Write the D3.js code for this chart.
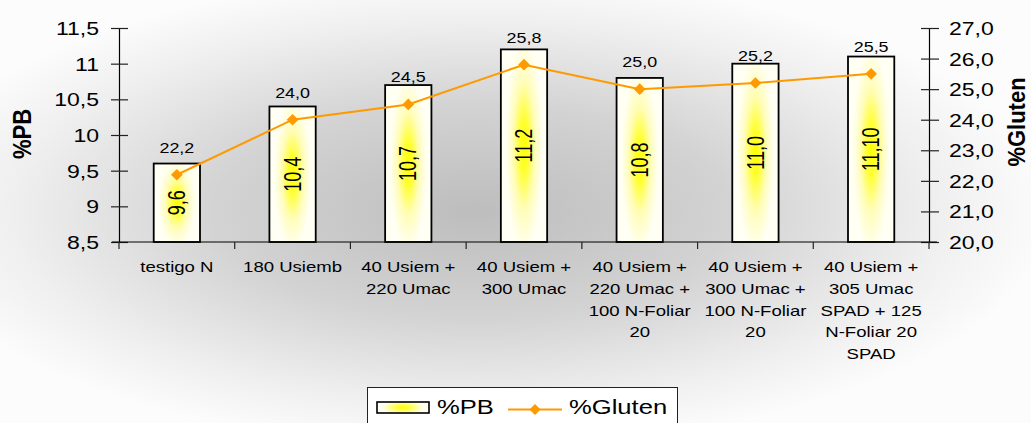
<!DOCTYPE html>
<html>
<head>
<meta charset="utf-8">
<script src="https://cdn.jsdelivr.net/npm/d3@7"></script>
<style>
  html, body { margin: 0; padding: 0; background: #ffffff; }
  svg { display: block; font-family: "Liberation Sans", Arial, sans-serif; }
</style>
</head>
<body>
<svg id="chart" width="1031" height="423"></svg>
<script>
// ---------- data ----------
const categories = [
  ["testigo N"],
  ["180 Usiemb"],
  ["40 Usiem +", "220 Umac"],
  ["40 Usiem +", "300 Umac"],
  ["40 Usiem +", "220 Umac +", "100 N-Foliar", "20"],
  ["40 Usiem +", "300 Umac +", "100 N-Foliar", "20"],
  ["40 Usiem +", "305 Umac", "SPAD + 125", "N-Foliar 20", "SPAD"]
];
const pbValues = [9.6, 10.4, 10.7, 11.2, 10.8, 11.0, 11.1];
const pbLabels = ["9,6", "10,4", "10,7", "11,2", "10,8", "11,0", "11,10"];
const glutenValues = [22.2, 24.0, 24.5, 25.8, 25.0, 25.2, 25.5];
const glutenLabels = ["22,2", "24,0", "24,5", "25,8", "25,0", "25,2", "25,5"];
const leftTicks = [8.5, 9, 9.5, 10, 10.5, 11, 11.5];
const leftTickLabels = ["8,5", "9", "9,5", "10", "10,5", "11", "11,5"];
const rightTicks = [20, 21, 22, 23, 24, 25, 26, 27];
const rightTickLabels = ["20,0", "21,0", "22,0", "23,0", "24,0", "25,0", "26,0", "27,0"];
const seriesNames = ["%PB", "%Gluten"];
const axisTitles = ["%PB", "%Gluten"];

// ---------- layout ----------
const SX = 1.28;               // horizontal stretch of the original text
const FONT = '"Liberation Sans", Arial, sans-serif';
const plot = { left: 119, right: 929, top: 28, bottom: 242 };
const lineColor = "#ff9900";

const svg = d3.select("#chart");
const defs = svg.append("defs");

// background gradient
const bg = defs.append("radialGradient").attr("id", "bgGrad")
  .attr("cx", 0.46).attr("cy", 0.5).attr("r", 0.56);
bg.append("stop").attr("offset", 0).attr("stop-color", "#bdbdbd");
bg.append("stop").attr("offset", 0.45).attr("stop-color", "#d3d3d3");
bg.append("stop").attr("offset", 0.8).attr("stop-color", "#efefef");
bg.append("stop").attr("offset", 1).attr("stop-color", "#fcfcfc");

// bar gradient
const bgBar = defs.append("radialGradient").attr("id", "barGrad")
  .attr("cx", 0.5).attr("cy", 0.5).attr("r", 0.5)
  .attr("gradientTransform", "translate(0.5,0.5) scale(0.8,1.1) translate(-0.5,-0.5)");
bgBar.append("stop").attr("offset", 0).attr("stop-color", "#ffff00");
bgBar.append("stop").attr("offset", 0.25).attr("stop-color", "#ffff33");
bgBar.append("stop").attr("offset", 0.6).attr("stop-color", "#fffdb8");
bgBar.append("stop").attr("offset", 1).attr("stop-color", "#fffff4");

svg.append("rect").attr("x", 0).attr("y", 0).attr("width", 1031).attr("height", 423)
  .attr("fill", "url(#bgGrad)");

// ---------- scales ----------
const x = d3.scaleBand()
  .domain(d3.range(categories.length))
  .range([plot.left, plot.right])
  .paddingInner(0.6).paddingOuter(0.3);
const step = x.step();
const yL = d3.scaleLinear().domain([8.5, 11.5]).range([plot.bottom, plot.top]);
const yR = d3.scaleLinear().domain([20, 27]).range([plot.bottom, plot.top]);

// ---------- bars ----------
svg.append("g").selectAll("rect").data(pbValues).join("rect")
  .attr("x", (d, i) => x(i))
  .attr("y", d => yL(d))
  .attr("width", x.bandwidth())
  .attr("height", d => plot.bottom - yL(d))
  .attr("fill", "url(#barGrad)")
  .attr("stroke", "#000")
  .attr("stroke-width", 1.8);

// in-bar labels
svg.append("g").selectAll("text").data(pbValues).join("text")
  .attr("transform", (d, i) => `translate(${x(i) + x.bandwidth() / 2},${(yL(d) + plot.bottom) / 2}) scale(${SX},1) rotate(-90)`)
  .attr("text-anchor", "middle").attr("dy", "0.35em")
  .attr("font-size", 18).attr("fill", "#000")
  .text((d, i) => pbLabels[i]);

// ---------- axes ----------
const axL = svg.append("g").attr("transform", `translate(${plot.left},0)`)
  .call(d3.axisLeft(yL).tickValues(leftTicks).tickFormat((d, i) => leftTickLabels[i]).tickSize(8));
axL.select(".domain").attr("stroke", "#000").attr("stroke-width", 1.2);
axL.selectAll(".tick line").attr("x1", 9).attr("x2", -8).attr("stroke", "#222").attr("stroke-width", 1.2);
axL.selectAll(".tick text").attr("font-family", FONT).attr("font-size", 18).attr("fill", "#000")
  .attr("x", null)
  .attr("transform", `translate(-20,0) scale(${SX},1)`).attr("dy", "0.36em");

const axR = svg.append("g").attr("transform", `translate(${plot.right},0)`)
  .call(d3.axisRight(yR).tickValues(rightTicks).tickFormat((d, i) => rightTickLabels[i]).tickSize(9));
axR.select(".domain").attr("stroke", "#000").attr("stroke-width", 1.2);
axR.selectAll(".tick line").attr("x1", -8).attr("x2", 10).attr("stroke", "#222").attr("stroke-width", 1.2);
axR.selectAll(".tick text").attr("font-family", FONT).attr("font-size", 18).attr("fill", "#000")
  .attr("x", null)
  .attr("transform", `translate(20,0) scale(${SX},1)`).attr("dy", "0.36em");

// x axis line + category boundary ticks
const boundaries = d3.range(categories.length + 1).map(i => plot.left + i * step);
const gx = svg.append("g");
gx.append("line").attr("x1", plot.left - 7).attr("x2", plot.right + 8)
  .attr("y1", plot.bottom).attr("y2", plot.bottom)
  .attr("stroke", "#000").attr("stroke-width", 1.2);
gx.selectAll("line.tk").data(boundaries).join("line").attr("class", "tk")
  .attr("x1", d => d).attr("x2", d => d)
  .attr("y1", plot.bottom).attr("y2", plot.bottom + 7)
  .attr("stroke", "#222").attr("stroke-width", 1.2);

// category labels
const catG = svg.append("g").selectAll("g").data(categories).join("g")
  .attr("transform", (d, i) => `translate(${x(i) + x.bandwidth() / 2},272)`);
catG.selectAll("text").data(d => d).join("text")
  .attr("transform", (d, j) => `translate(0,${j * 21.8}) scale(${SX},1)`)
  .attr("text-anchor", "middle").attr("font-size", 14.5).attr("fill", "#000")
  .text(d => d);

// ---------- gluten line ----------
const line = d3.line().x((d, i) => x(i) + x.bandwidth() / 2).y(d => yR(d));
svg.append("path").datum(glutenValues)
  .attr("d", line).attr("fill", "none")
  .attr("stroke", lineColor).attr("stroke-width", 2);
svg.append("g").selectAll("path").data(glutenValues).join("path")
  .attr("d", d3.symbol().type(d3.symbolSquare).size(68)())
  .attr("transform", (d, i) => `translate(${x(i) + x.bandwidth() / 2},${yR(d)}) rotate(45)`)
  .attr("fill", lineColor);

// gluten labels
svg.append("g").selectAll("text").data(glutenValues).join("text")
  .attr("transform", (d, i) => `translate(${x(i) + x.bandwidth() / 2},${yR(d) - 22}) scale(${SX},1)`)
  .attr("text-anchor", "middle").attr("font-size", 14).attr("fill", "#000")
  .text((d, i) => glutenLabels[i]);

// ---------- axis titles ----------
svg.append("text")
  .attr("transform", `translate(22,134) scale(1.15,1) rotate(-90)`)
  .attr("text-anchor", "middle").attr("dy", "0.35em")
  .attr("font-size", 22).attr("font-weight", "bold").attr("fill", "#000")
  .text(axisTitles[0]);
svg.append("text")
  .attr("transform", `translate(1017,122) scale(1.08,1) rotate(-90)`)
  .attr("text-anchor", "middle").attr("dy", "0.35em")
  .attr("font-size", 22).attr("font-weight", "bold").attr("fill", "#000")
  .text(axisTitles[1]);

// ---------- legend ----------
const lg = svg.append("g");
lg.append("rect").attr("x", 367.5).attr("y", 387.5).attr("width", 310).attr("height", 50)
  .attr("fill", "#ffffff").attr("stroke", "#222").attr("stroke-width", 1);
const legGrad = defs.append("radialGradient").attr("id", "legGrad")
  .attr("cx", 0.5).attr("cy", 0.5).attr("r", 0.5)
  .attr("gradientTransform", "translate(0.5,0.5) scale(0.8,1.2) translate(-0.5,-0.5)");
legGrad.append("stop").attr("offset", 0).attr("stop-color", "#ffff00");
legGrad.append("stop").attr("offset", 0.4).attr("stop-color", "#ffff50");
legGrad.append("stop").attr("offset", 1).attr("stop-color", "#fffff2");
lg.append("rect").attr("x", 377).attr("y", 402).attr("width", 52).attr("height", 11)
  .attr("fill", "url(#legGrad)").attr("stroke", "#000").attr("stroke-width", 1.6);
lg.append("text").attr("transform", `translate(437,414) scale(${SX},1)`)
  .attr("font-size", 20).attr("fill", "#000").text(seriesNames[0]);
lg.append("line").attr("x1", 508).attr("x2", 562).attr("y1", 409.5).attr("y2", 409.5)
  .attr("stroke", lineColor).attr("stroke-width", 2);
lg.append("path").attr("d", d3.symbol().type(d3.symbolSquare).size(60)())
  .attr("transform", "translate(535,409.5) rotate(45)").attr("fill", lineColor);
lg.append("text").attr("transform", `translate(569,414) scale(${SX},1)`)
  .attr("font-size", 20).attr("fill", "#000").text(seriesNames[1]);
</script>
</body>
</html>
